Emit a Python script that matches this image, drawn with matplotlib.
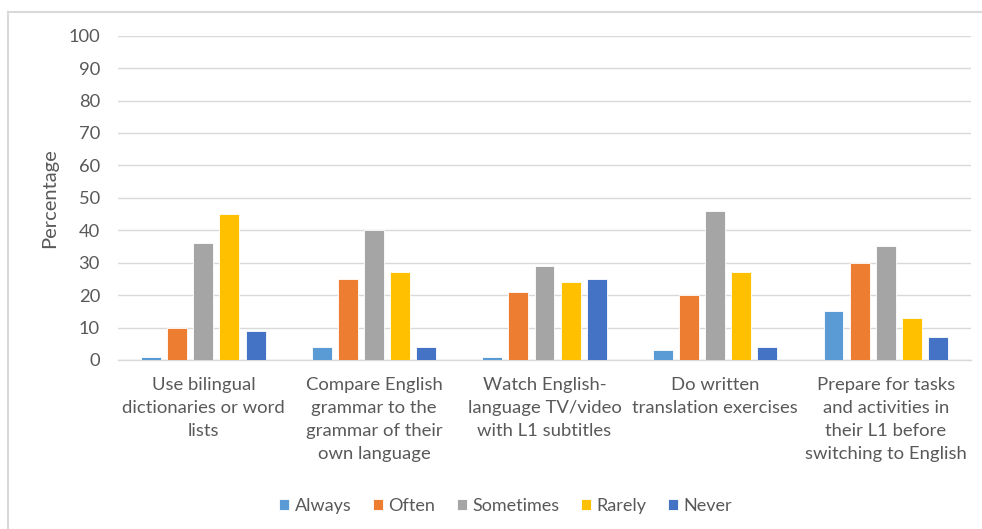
import numpy as np
import matplotlib.pyplot as plt
from matplotlib.lines import Line2D

plt.rcParams['font.family'] = ['Lato', 'DejaVu Sans']

categories = [
    "Use bilingual\ndictionaries or word\nlists",
    "Compare English\ngrammar to the\ngrammar of their\nown language",
    "Watch English-\nlanguage TV/video\nwith L1 subtitles",
    "Do written\ntranslation exercises",
    "Prepare for tasks\nand activities in\ntheir L1 before\nswitching to English",
]
series_names = ["Always", "Often", "Sometimes", "Rarely", "Never"]
always = [1, 4, 1, 3, 15]
often = [10, 25, 21, 20, 30]
sometimes = [36, 40, 29, 46, 35]
rarely = [45, 27, 24, 27, 13]
never = [9, 4, 25, 4, 7]
colors = ["#5B9BD5", "#ED7D31", "#A5A5A5", "#FFC000", "#4472C4"]

text_color = "#595959"
grid_color = "#D9D9D9"

fig = plt.figure(figsize=(9.82, 5.29), dpi=100)
ax = fig.add_axes([0.1202, 0.3195, 0.8686, 0.613])

x = np.arange(len(categories))
pitch = 0.153
width = 0.117
values = [always, often, sometimes, rarely, never]
for i, (name, vals, c) in enumerate(zip(series_names, values, colors)):
    ax.bar(x + (i - 2) * pitch, vals, width, color=c, label=name,
           edgecolor="white", linewidth=0.6, zorder=3)

ax.set_xlim(-0.5, len(categories) - 0.5)
ax.set_ylim(0, 100)
ax.set_yticks(range(0, 101, 10))
ax.yaxis.grid(True, color=grid_color, linewidth=1, zorder=0)
for side in ["left", "right", "top"]:
    ax.spines[side].set_visible(False)
ax.spines["bottom"].set_color(grid_color)
ax.spines["bottom"].set_linewidth(1)
ax.tick_params(axis="both", length=0, colors=text_color, labelsize=13.2)
ax.tick_params(axis="y", pad=13)
ax.tick_params(axis="x", pad=12)
ax.set_xticks(x)
ax.set_xticklabels(categories, fontsize=13.3, color=text_color, linespacing=1.55,
                   va="top")
ax.set_ylabel("Percentage", fontsize=14.5, color=text_color, labelpad=7)

ax.legend(loc="center", bbox_to_anchor=(0.515, 0.043), bbox_transform=fig.transFigure,
          ncol=5, frameon=False, fontsize=13, labelcolor=text_color,
          handlelength=0.55, handleheight=0.55, handletextpad=0.3, columnspacing=1.2)

# partial chart frame along the top and left edges
fig.add_artist(Line2D([8 / 982, 1], [1 - 12 / 529, 1 - 12 / 529],
                      transform=fig.transFigure, color=grid_color, linewidth=1.5))
fig.add_artist(Line2D([8 / 982, 8 / 982], [0, 1 - 12 / 529],
                      transform=fig.transFigure, color=grid_color, linewidth=1.5))

fig.savefig("out.png", dpi=100)
